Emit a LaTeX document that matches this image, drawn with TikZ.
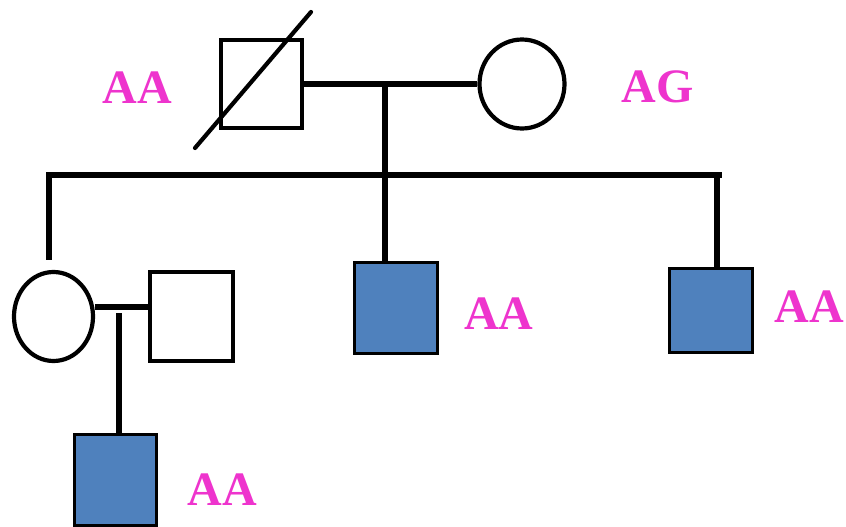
\documentclass[tikz,border=0pt]{standalone}
\usepackage{fontspec}
\setmainfont{Liberation Serif}
\usetikzlibrary{shapes.geometric}
\definecolor{affblue}{HTML}{4F81BD}
\definecolor{genopink}{RGB}{238,52,205}
\begin{document}
\begin{tikzpicture}[x=1pt,y=-1pt,
  male/.style={draw=black,line width=4.5pt,rectangle,inner sep=0pt,fill=white},
  female/.style={draw=black,line width=4.2pt,ellipse,inner sep=0pt,fill=white},
  affected/.style={draw=black,line width=3pt,rectangle,inner sep=0pt,fill=affblue},
  link/.style={draw=black,line width=6.5pt},
  geno/.style={text=genopink,font=\fontsize{48}{48}\selectfont\bfseries,inner sep=0pt}]
\useasboundingbox (0,0) rectangle (846,527);
% generation I
\node[male,minimum width=81pt,minimum height=88pt] (father) at (261.5,84) {};
\node[female,minimum width=85pt,minimum height=89pt] (mother) at (522,84) {};
\coordinate (slashA) at (195,148);
\coordinate (slashB) at (311,12);
\draw[line width=4.2pt,line cap=round] (slashA) -- (slashB);
\draw[link] (father.east) -- (mother.west);
\coordinate (m1) at (385,85);
% generation II
\node[female,minimum width=79pt,minimum height=89pt] (daughter) at (53.5,316.5) {};
\node[male,minimum width=83pt,minimum height=89pt] (husband) at (191.5,316.5) {};
\node[affected,minimum width=83pt,minimum height=91pt] (son2) at (396,308) {};
\node[affected,minimum width=83pt,minimum height=84pt] (son3) at (711,310.5) {};
\coordinate (sibL) at (46,175);
\coordinate (sibR) at (722,175);
\coordinate (dropL) at (49,175);
\coordinate (dropLend) at (49,260);
\coordinate (dropR) at (717,175);
\coordinate (dropRend) at (717,268);
\draw[link] (sibL) -- (sibR);
\draw[link] (m1) -- (m1 |- son2.north);
\draw[link] (dropL) -- (dropLend);
\draw[link] (dropR) -- (dropRend);
% generation III
\node[affected,minimum width=82pt,minimum height=91pt] (grandson) at (115.5,480) {};
\coordinate (m2) at (119,307);
\draw[link] (daughter.east |- m2) -- (husband.west |- m2);
\coordinate (m2top) at (119,313);
\draw[link] (m2top) -- (m2top |- grandson.north);
% genotypes
\node[geno] (gF) at (137.5,88) {AA};
\node[geno] (gM) at (657.5,87) {AG};
\node[geno] (g2) at (499,314) {AA};
\node[geno] (g3) at (809.5,307) {AA};
\node[geno] (g4) at (222.5,490) {AA};
\end{tikzpicture}
\end{document}
